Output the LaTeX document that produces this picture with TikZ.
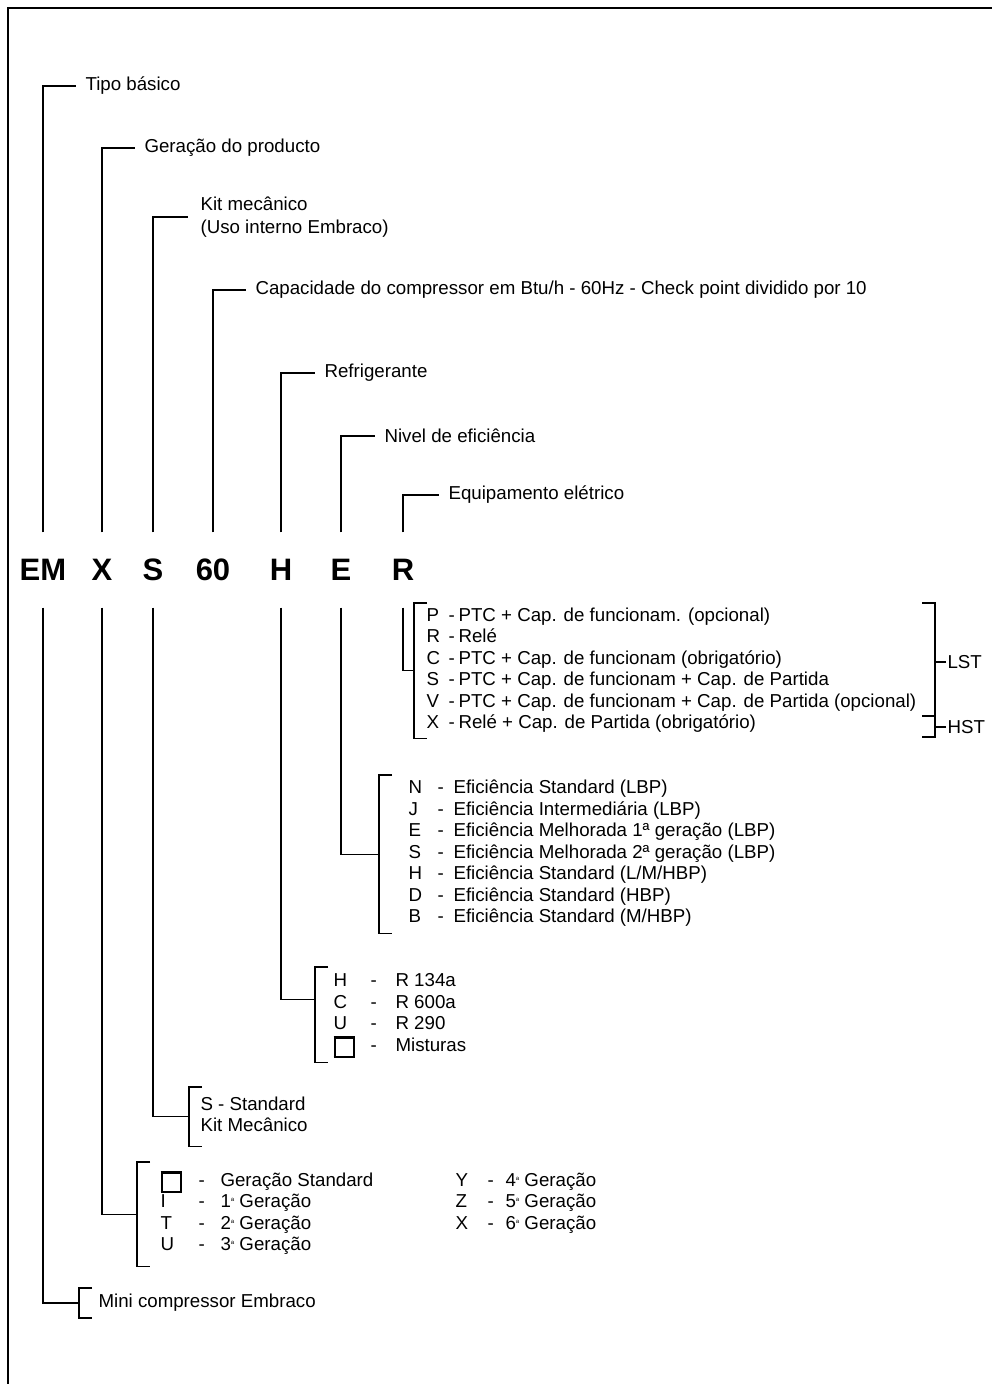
\documentclass[tikz,border=0pt]{standalone}
\usepackage{fontspec}
\setmainfont{Liberation Sans}
\usetikzlibrary{positioning}

\newcommand{\emptybox}{\smash{\raisebox{-5pt}{\setlength{\fboxrule}{2.2pt}\setlength{\fboxsep}{0pt}\fbox{\rule{0pt}{17.5pt}\rule{17.5pt}{0pt}}}}}
\newcommand{\ordsup}[1]{#1\raisebox{6pt}{\fontsize{6}{6}\selectfont a}}
\newcommand{\optbracket}[1]{\draw ([xshift=13pt]#1.north west) -- (#1.north west) -- (#1.south west) -- ([xshift=13pt]#1.south west);}

\begin{document}
\begin{tikzpicture}[x=1pt, y=-1pt, line width=1.1pt,
    every node/.style={font=\fontsize{18.7}{21.5}\selectfont},
    code/.style={font=\fontsize{31}{31}\selectfont\bfseries, minimum height=74pt, inner sep=0pt},
    lbl/.style={anchor=west, inner xsep=9pt, inner ysep=0pt},
    opts/.style={anchor=north west, inner ysep=#1}]
    \useasboundingbox (0,0) rectangle (992,1384);
    \draw[line width=1.6pt] (992,8) -- (8,8) -- (8,1384);

    \node[code] (em) at (43,570) {EM};
    \node[code] (gen) at (102,570) {X};
    \node[code] (kit) at (153,570) {S};
    \node[code] (cap) at (213,570) {60};
    \node[code] (refr) at (281,570) {H};
    \node[code] (eff) at (341,570) {E};
    \node[code] (equip) at (403,570) {R};

    \node[lbl] (tipo) at (76,86) {Tipo básico};
    \node[lbl] (geracao) at (135,148) {Geração do producto};
    \node[lbl, align=left, inner xsep=12pt] (kitlbl) at (188,217) {Kit mecânico\\[1pt](Uso interno Embraco)};
    \node[lbl] (caplbl) at (246,290) {Capacidade do compressor em Btu/h - 60Hz - Check point dividido por 10};
    \node[lbl] (refrlbl) at (315,373) {Refrigerante};
    \node[lbl] (efflbl) at (375,436) {Nivel de eficiência};
    \node[lbl] (equiplbl) at (439,495) {Equipamento elétrico};

    \draw (em.north) |- (tipo.west);
    \draw (gen.north) |- (geracao.west);
    \draw (kit.north) |- (kitlbl.west);
    \draw (cap.north) |- (caplbl.west);
    \draw (refr.north) |- (refrlbl.west);
    \draw (eff.north) |- (efflbl.west);
    \draw (equip.north) |- (equiplbl.west);

    \node[opts=2.5pt, inner xsep=12pt] (rlist) at (414,603) {\begin{tabular}{@{}p{22pt}@{}p{10pt}@{}l@{}}
        P & - & PTC + Cap. de funcionam. (opcional)\\
        R & - & Relé\\
        C & - & PTC + Cap. de funcionam (obrigatório)\\
        S & - & PTC + Cap. de funcionam + Cap. de Partida\\
        V & - & PTC + Cap. de funcionam + Cap. de Partida (opcional)\\
        X & - & Relé + Cap. de Partida (obrigatório)
    \end{tabular}};
    \draw (equip.south) |- (rlist.west);
    \optbracket{rlist}

    \coordinate (rbtop) at (922,603);
    \coordinate (rbmid) at (922,716);
    \coordinate (rbbot) at (922,737);
    \node[anchor=west, inner xsep=1pt] (lst) at (946,662) {LST};
    \node[anchor=west, inner xsep=1pt] (hst) at (946,727) {HST};
    \draw (rbtop) -- ++(13,0) |- (rbbot);
    \draw (rbmid) -- ++(13,0);
    \draw (lst.west) -- ++(-11,0);
    \draw (hst.west) -- ++(-11,0);

    \node[opts=3.25pt, inner xsep=29pt] (elist) at (379,775) {\begin{tabular}{@{}p{29pt}@{}p{16pt}@{}l@{}}
        N & - & Eficiência Standard (LBP)\\
        J & - & Eficiência Intermediária (LBP)\\
        E & - & Eficiência Melhorada 1ª geração (LBP)\\
        S & - & Eficiência Melhorada 2ª geração (LBP)\\
        H & - & Eficiência Standard (L/M/HBP)\\
        D & - & Eficiência Standard (HBP)\\
        B & - & Eficiência Standard (M/HBP)
    \end{tabular}};
    \draw (eff.south) |- (elist.west);
    \optbracket{elist}

    \node[opts=4pt, inner xsep=18pt] (hlist) at (315,967) {\begin{tabular}{@{}p{37pt}@{}p{25pt}@{}l@{}}
        H & - & R 134a\\
        C & - & R 600a\\
        U & - & R 290\\
        \emptybox & - & Misturas
    \end{tabular}};
    \draw (refr.south) |- ([yshift=15pt]hlist.west);
    \optbracket{hlist}

    \node[opts=7.5pt, inner xsep=11pt] (slist) at (189,1087) {\begin{tabular}{@{}l@{}}
        S - Standard\\
        Kit Mecânico
    \end{tabular}};
    \draw (kit.south) |- (slist.west);
    \optbracket{slist}

    \node[opts=8.5pt, inner xsep=23pt] (xlist) at (137,1162) {\begin{tabular}{@{}p{38pt}@{}p{22pt}@{}p{235pt}@{}p{32pt}@{}p{18pt}@{}l@{}}
        \emptybox & - & Geração Standard & Y & - & \ordsup{4} Geração\\
        I & - & \ordsup{1} Geração & Z & - & \ordsup{5} Geração\\
        T & - & \ordsup{2} Geração & X & - & \ordsup{6} Geração\\
        U & - & \ordsup{3} Geração & & &
    \end{tabular}};
    \draw (gen.south) |- (xlist.west);
    \optbracket{xlist}

    \node[opts=5.75pt, inner xsep=19pt] (mini) at (79,1288) {Mini compressor Embraco};
    \draw (em.south) |- (mini.west);
    \optbracket{mini}
\end{tikzpicture}
\end{document}
